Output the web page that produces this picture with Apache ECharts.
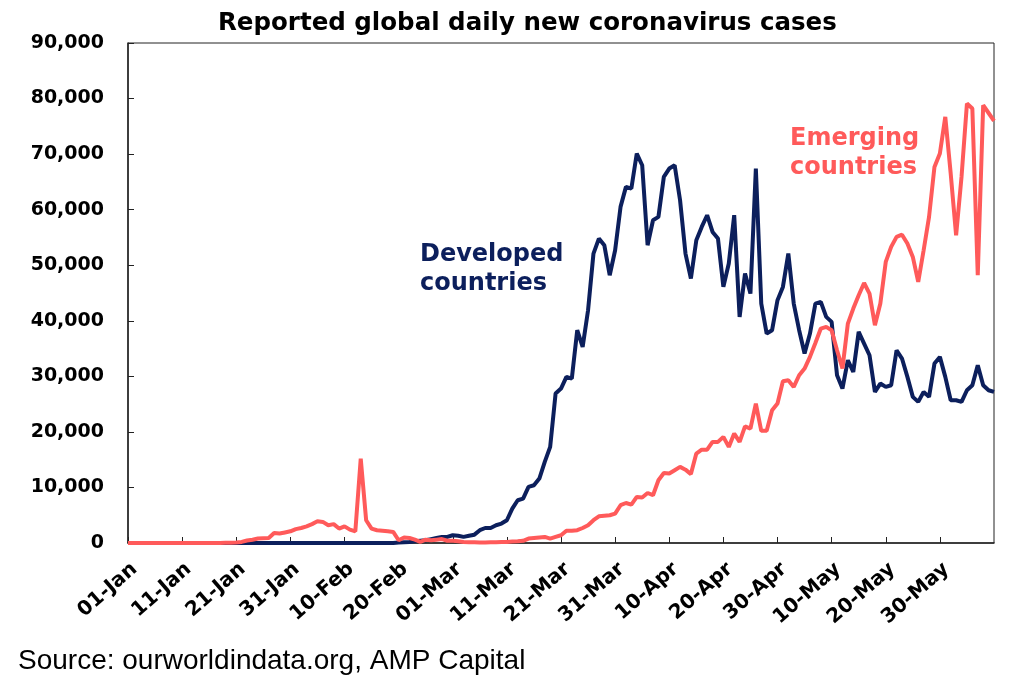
<!DOCTYPE html>
<html>
<head>
<meta charset="utf-8">
<title>Reported global daily new coronavirus cases</title>
<script src="https://cdn.jsdelivr.net/npm/echarts@6/dist/echarts.min.js"></script>
<style>
  html, body { margin: 0; padding: 0; background: #fff; }
  #chart { width: 1024px; height: 699px; }
</style>
</head>
<body>
<div id="chart"></div>
<script>
// daily values, 01-Jan-2020 .. 09-Jun-2020 (161 days)
const startDate = "2020-01-01";
const dayCount = 161;
const monthNames = ["Jan", "Feb", "Mar", "Apr", "May", "Jun", "Jul", "Aug", "Sep", "Oct", "Nov", "Dec"];

const yTicks = [0, 10000, 20000, 30000, 40000, 50000, 60000, 70000, 80000, 90000];

// Developed countries
const developed = [
  0, 0, 0, 0, 0, 0, 0, 0, 0, 0,
  0, 0, 0, 0, 0, 0, 0, 0, 0, 0,
  0, 0, 0, 0, 0, 0, 0, 0, 0, 0,
  0, 0, 0, 0, 0, 0, 0, 0, 0, 0,
  0, 0, 0, 0, 0, 0, 0, 0, 0, 0,
  100, 150, 200, 300, 400, 500, 700, 900, 1100, 1100,
  1400, 1300, 1100, 1300, 1500, 2300, 2700, 2700, 3200, 3500,
  4100, 6200, 7700, 8000, 10100, 10400, 11600, 14600, 17300, 26900,
  27800, 29900, 29600, 38300, 35300, 41900, 52100, 54800, 53600, 48200,
  52700, 60500, 64100, 63800, 70100, 68000, 53600, 58100, 58700, 65900,
  67400, 68000, 61700, 52100, 47600, 54500, 56900, 59000, 56000, 54800,
  46100, 50300, 59000, 40700, 48500, 44900, 67400, 43100, 37700, 38300,
  43700, 46100, 52100, 43100, 38300, 34100, 37700, 43100, 43400, 40700,
  39800, 30200, 27800, 32900, 30800, 38000, 35900, 33800, 27200, 28700,
  28100, 28400, 34700, 33200, 29900, 26300, 25400, 27200, 26300, 32300,
  33500, 29900, 25700, 25700, 25400, 27500, 28400, 32000, 28400, 27500,
  27200
];

// Emerging countries
const emerging = [
  0, 0, 0, 0, 0, 0, 0, 0, 0, 0,
  0, 0, 0, 0, 0, 0, 0, 0, 30, 60,
  100, 200, 450, 600, 800, 850, 900, 1800, 1700, 1900,
  2100, 2500, 2700, 3000, 3400, 3900, 3800, 3200, 3400, 2600,
  3000, 2400, 2100, 15200, 4100, 2600, 2300, 2200, 2100, 2000,
  500, 1000, 900, 600, 200, 600, 500, 600, 700, 400,
  400, 300, 200, 150, 150, 100, 100, 150, 150, 200,
  200, 250, 300, 400, 800, 900, 1000, 1100, 800, 1100,
  1400, 2200, 2200, 2300, 2700, 3200, 4100, 4800, 4900, 5000,
  5300, 6800, 7200, 6900, 8300, 8200, 9000, 8600, 11300, 12600,
  12500, 13100, 13700, 13200, 12400, 16100, 16800, 16800, 18200, 18200,
  19100, 17300, 19700, 18200, 21000, 20600, 25100, 20200, 20200, 23900,
  25100, 29100, 29300, 28100, 30200, 31400, 33500, 36000, 38600, 38900,
  38300, 34700, 31400, 39500, 42200, 44600, 46800, 44900, 39200, 43100,
  50600, 53300, 55100, 55500, 53900, 51500, 47000, 52700, 58700, 67700,
  70100, 76700, 66500, 55400, 65900, 79100, 78200, 48200, 78800, 77400,
  76000
];

// date categories "01-Jan" ...
const dates = [];
const d0 = new Date(startDate + "T00:00:00Z");
for (let i = 0; i < dayCount; i++) {
  const d = new Date(d0.getTime() + i * 86400000);
  const dd = String(d.getUTCDate()).padStart(2, "0");
  dates.push(dd + "-" + monthNames[d.getUTCMonth()]);
}

// labels/ticks every 10 days, none on the last day
const everyTenth = (i) => i % 10 === 0 && i < dayCount - 1;

const navy = "#0c1f5c";
const coral = "#ff5a5a";
const boldFont = "DejaVu Sans";

const chart = echarts.init(document.getElementById("chart"));

chart.setOption({
  animation: false,
  backgroundColor: "#fff",
  title: {
    text: "Reported global daily new coronavirus cases",
    left: 218,
    top: 11,
    padding: 0,
    textStyle: {
      fontFamily: boldFont,
      fontWeight: "bold",
      fontSize: 24.5,
      color: "#000",
    },
  },
  grid: {
    left: 128,
    right: 30,
    top: 43,
    bottom: 156,
    show: true,
    borderColor: "#222",
    borderWidth: 1,
    backgroundColor: "transparent",
  },
  xAxis: {
    type: "category",
    data: dates,
    boundaryGap: false,
    axisLine: { lineStyle: { color: "#222", width: 1.5 } },
    axisTick: {
      inside: true,
      length: 6,
      interval: everyTenth,
      lineStyle: { color: "#222" },
    },
    axisLabel: {
      interval: everyTenth,
      rotate: 41,
      margin: 16,
      align: "right",
      verticalAlign: "top",
      fontFamily: boldFont,
      fontWeight: "bold",
      fontSize: 20,
      color: "#000",
    },
    splitLine: { show: false },
  },
  yAxis: {
    type: "value",
    min: yTicks[0],
    max: yTicks[yTicks.length - 1],
    interval: 10000,
    axisLine: { show: true, lineStyle: { color: "#222", width: 1.5 } },
    axisTick: { show: true, inside: true, length: 6, lineStyle: { color: "#222" } },
    axisLabel: {
      margin: 24,
      fontFamily: boldFont,
      fontWeight: "bold",
      fontSize: 19,
      color: "#000",
      formatter: (v) => String(v).replace(/\B(?=(\d{3})+(?!\d))/g, ","),
    },
    splitLine: { show: false },
  },
  series: [
    {
      name: "Developed countries",
      type: "line",
      data: developed,
      symbol: "none",
      lineStyle: { color: navy, width: 4 },
      itemStyle: { color: navy },
      z: 2,
    },
    {
      name: "Emerging countries",
      type: "line",
      data: emerging,
      symbol: "none",
      lineStyle: { color: coral, width: 4 },
      itemStyle: { color: coral },
      z: 3,
    },
  ],
  graphic: [
    {
      type: "text",
      left: 420,
      top: 240,
      style: {
        text: "Developed\ncountries",
        fill: navy,
        font: "bold 24px 'DejaVu Sans'",
        lineHeight: 29,
      },
    },
    {
      type: "text",
      left: 790,
      top: 124,
      style: {
        text: "Emerging\ncountries",
        fill: coral,
        font: "bold 24px 'DejaVu Sans'",
        lineHeight: 29,
      },
    },
    {
      type: "text",
      left: 18,
      top: 647,
      style: {
        text: "Source: ourworldindata.org, AMP Capital",
        fill: "#000",
        font: "28px 'Liberation Sans', Arial, sans-serif",
      },
    },
  ],
});
</script>
</body>
</html>
